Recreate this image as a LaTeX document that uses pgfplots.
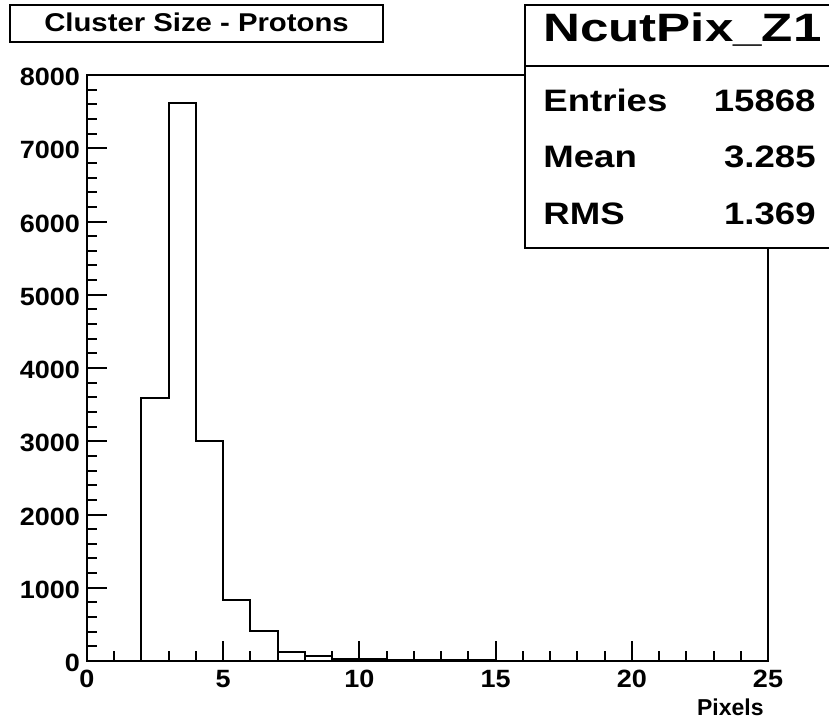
\documentclass[border=0pt]{standalone}
\usepackage{fontspec}
\setmainfont{Liberation Sans}
\newfontfamily\tickfont[FakeStretch=1.08]{Liberation Sans}
\newfontfamily\titlefont[FakeStretch=1.14]{Liberation Sans}
\newfontfamily\headfont[FakeStretch=1.29]{Liberation Sans}
\newfontfamily\statfont[FakeStretch=1.18]{Liberation Sans}
\usepackage{pgfplots}
\pgfplotsset{compat=1.18}

\begin{document}
\begin{tikzpicture}
\begin{axis}[
  scale only axis,
  width=340.5pt, height=293pt,
  xmin=0, xmax=25, ymin=0, ymax=8000,
  xtick={0,5,...,25}, minor x tick num=4,
  ytick={0,1000,...,8000}, minor y tick num=4,
  tick align=inside, tick pos=left,
  major tick length=10pt, minor tick length=5pt,
  axis line style={line width=1pt},
  every tick/.style={black, line width=1pt},
  ticklabel style={font=\tickfont\fontsize{12.5}{14}\selectfont\bfseries},
  /pgf/number format/assume math mode=true,
  /pgf/number format/set thousands separator={},
  xticklabel style={yshift=-1pt},
  yticklabel style={yshift=-1pt},
]
% NcutPix_Z1: cluster size in pixels, one bin per integer
\addplot[const plot mark left, line width=1pt, black] coordinates {
  (1,0) (2,3586) (3,7620) (4,3003) (5,833) (6,410) (7,126) (8,62)
  (9,30) (10,22) (11,17) (12,13) (13,10) (14,8) (15,6) (16,0) (17,0)
};
\end{axis}
\begin{scope}[x=0.5pt, y=-0.5pt, shift={(-43.5pt,330.5pt)}]
  \useasboundingbox (0,0) rectangle (829,723);
  % x axis title
  \node[anchor=base east, inner sep=0pt, font=\fontsize{11.5}{13}\selectfont\bfseries] at (764,715) {Pixels};
  % histogram title box
  \draw[line width=1pt, fill=white] (10,5) rectangle (383,42);
  \node[inner sep=0pt, font=\titlefont\fontsize{12.85}{14}\selectfont\bfseries, anchor=base] at (196.5,32) {Cluster Size - Protons};
  % statistics box
  \fill[white] (525,5) rectangle (829,248);
  \draw[line width=1pt] (829,5) -- (525,5) -- (525,248) -- (829,248);
  \draw[line width=1pt] (525,66) -- (829,66);
  \node[anchor=base west, inner sep=0pt, font=\headfont\fontsize{19.8}{22}\selectfont\bfseries] at (543,42) {NcutPix\_Z1};
  \begin{scope}[every node/.style={inner sep=0pt, font=\statfont\fontsize{15.5}{17}\selectfont\bfseries}]
    \node[anchor=base west] at (543,112) {Entries};
    \node[anchor=base east] at (816,112) {15868};
    \node[anchor=base west] at (543,168) {Mean};
    \node[anchor=base east] at (816,168) {3.285};
    \node[anchor=base west] at (543,225) {RMS};
    \node[anchor=base east] at (816,225) {1.369};
  \end{scope}
\end{scope}
\end{tikzpicture}
\end{document}
